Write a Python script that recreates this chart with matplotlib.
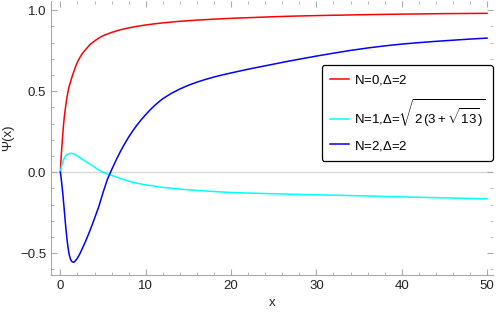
import matplotlib
matplotlib.use("Agg")
import matplotlib.pyplot as plt
from matplotlib.ticker import MultipleLocator

plt.rcParams['font.family'] = ['Liberation Sans', 'DejaVu Sans']
plt.rcParams['mathtext.fontset'] = 'custom'
plt.rcParams['mathtext.rm'] = 'Liberation Sans'
plt.rcParams['mathtext.it'] = 'Liberation Sans'

# values
x_red = [0, 0.05, 0.1, 0.2, 0.3, 0.4, 0.5, 0.6, 0.7, 0.8, 0.9, 1.0, 1.2, 1.4, 1.6, 1.8,
         2.0, 2.3, 2.6, 3.0, 3.5, 4.0, 4.5, 5, 6, 7, 8, 9, 10, 11, 12, 13, 14, 16, 18,
         20, 22.5, 25, 27.5, 30, 35, 40, 45, 50]
y_red = [0, 0.06, 0.1, 0.18, 0.25, 0.31, 0.36, 0.4, 0.44, 0.47, 0.5, 0.525, 0.56,
         0.595, 0.625, 0.655, 0.68, 0.71, 0.735, 0.76, 0.79, 0.81, 0.828, 0.843, 0.863,
         0.879, 0.891, 0.901, 0.909, 0.916, 0.922, 0.927, 0.932, 0.939, 0.945, 0.95,
         0.955, 0.96, 0.964, 0.967, 0.972, 0.976, 0.979, 0.981]

x_cyan = [0, 0.1, 0.2, 0.3, 0.4, 0.6, 0.8, 1.0, 1.3, 1.6, 2.0, 2.5, 3.0, 3.5, 4.0, 4.5,
          5.0, 5.5, 6, 7, 8, 9, 10, 12, 14, 16, 18, 20, 25, 30, 35, 40, 45, 50]
y_cyan = [0, 0.03, 0.05, 0.066, 0.08, 0.1, 0.11, 0.115, 0.117, 0.113, 0.1, 0.083,
          0.066, 0.049, 0.032, 0.015, 0.0, -0.009, -0.019, -0.038, -0.055, -0.068,
          -0.078, -0.093, -0.104, -0.112, -0.119, -0.125, -0.133, -0.139, -0.145,
          -0.152, -0.158, -0.164]

x_blue = [0, 0.1, 0.2, 0.3, 0.4, 0.5, 0.6, 0.7, 0.8, 0.9, 1.0, 1.1, 1.2, 1.3, 1.4, 1.5,
          1.6, 1.7, 1.8, 1.9, 2.0, 2.2, 2.4, 2.6, 2.8, 3.0, 3.25, 3.5, 3.75, 4.0, 4.5,
          5.0, 5.5, 6.0, 6.5, 7, 7.5, 8, 8.5, 9, 9.5, 10, 10.5, 11, 11.5, 12, 13, 14,
          15, 16, 17, 18, 19, 20, 22, 24, 26, 28, 30, 32, 34, 36, 38, 40, 42, 44, 46,
          48, 50]
y_blue = [0, -0.04, -0.09, -0.14, -0.2, -0.26, -0.32, -0.375, -0.425, -0.465, -0.5,
          -0.522, -0.538, -0.548, -0.553, -0.555, -0.554, -0.55, -0.544, -0.537, -0.529,
          -0.511, -0.49, -0.467, -0.444, -0.42, -0.388, -0.355, -0.32, -0.285, -0.212,
          -0.125, -0.045, 0.015, 0.072, 0.125, 0.173, 0.217, 0.257, 0.293, 0.326, 0.356,
          0.384, 0.41, 0.433, 0.454, 0.487, 0.514, 0.537, 0.556, 0.573, 0.588, 0.601,
          0.613, 0.636, 0.657, 0.678, 0.698, 0.717, 0.735, 0.752, 0.767, 0.78, 0.791,
          0.8, 0.808, 0.815, 0.822, 0.828]

labels = [r'N=0,$\Delta$=2',
          r'N=1,$\Delta$=$\sqrt{2\,(3+\sqrt{13})}$',
          r'N=2,$\Delta$=2']

fig = plt.figure(figsize=(4.98, 3.15), dpi=100)
ax = fig.add_axes([51 / 498, 40 / 315, 442 / 498, 274 / 315])

ax.axhline(0, color='#d9d9d9', lw=1.0, zorder=1)
ax.plot(x_red, y_red, color='red', lw=1.1, label=labels[0])
ax.plot(x_cyan, y_cyan, color='cyan', lw=1.1, label=labels[1])
ax.plot(x_blue, y_blue, color='blue', lw=1.1, label=labels[2])

ax.set_xlim(-1.1, 50.7)
ax.set_ylim(-0.634, 1.057)

ax.xaxis.set_major_locator(MultipleLocator(10))
ax.xaxis.set_minor_locator(MultipleLocator(2))
ax.yaxis.set_major_locator(MultipleLocator(0.5))
ax.yaxis.set_minor_locator(MultipleLocator(0.1))
ax.yaxis.set_major_formatter(plt.FuncFormatter(lambda v, p: f"{v:.1f}".replace('-', '\u2212')))

for s in ['top', 'right']:
    ax.spines[s].set_visible(False)
for s in ['left', 'bottom']:
    ax.spines[s].set_color('#aaaaaa')
ax.tick_params(which='both', direction='in', color='#aaaaaa', labelsize=9.5,
               labelcolor='#222222', top=True, right=True)
ax.tick_params(which='major', length=4)
ax.tick_params(which='minor', length=2)

ax.set_xlabel('x', fontsize=9.5, color='#222222', labelpad=4)
ax.set_ylabel('\u03a8(x)', fontsize=9.5, color='#222222', labelpad=4)

leg = ax.legend(loc='upper right', bbox_to_anchor=(1.0, 0.766), borderaxespad=0,
                fontsize=9.5, frameon=True, fancybox=True, handlelength=1.5,
                handletextpad=0.35, labelspacing=0.75, borderpad=0.6)
leg.get_frame().set_edgecolor('black')
leg.get_frame().set_linewidth(0.9)
leg.get_frame().set_alpha(1)

fig.savefig('out.png', dpi=100)
